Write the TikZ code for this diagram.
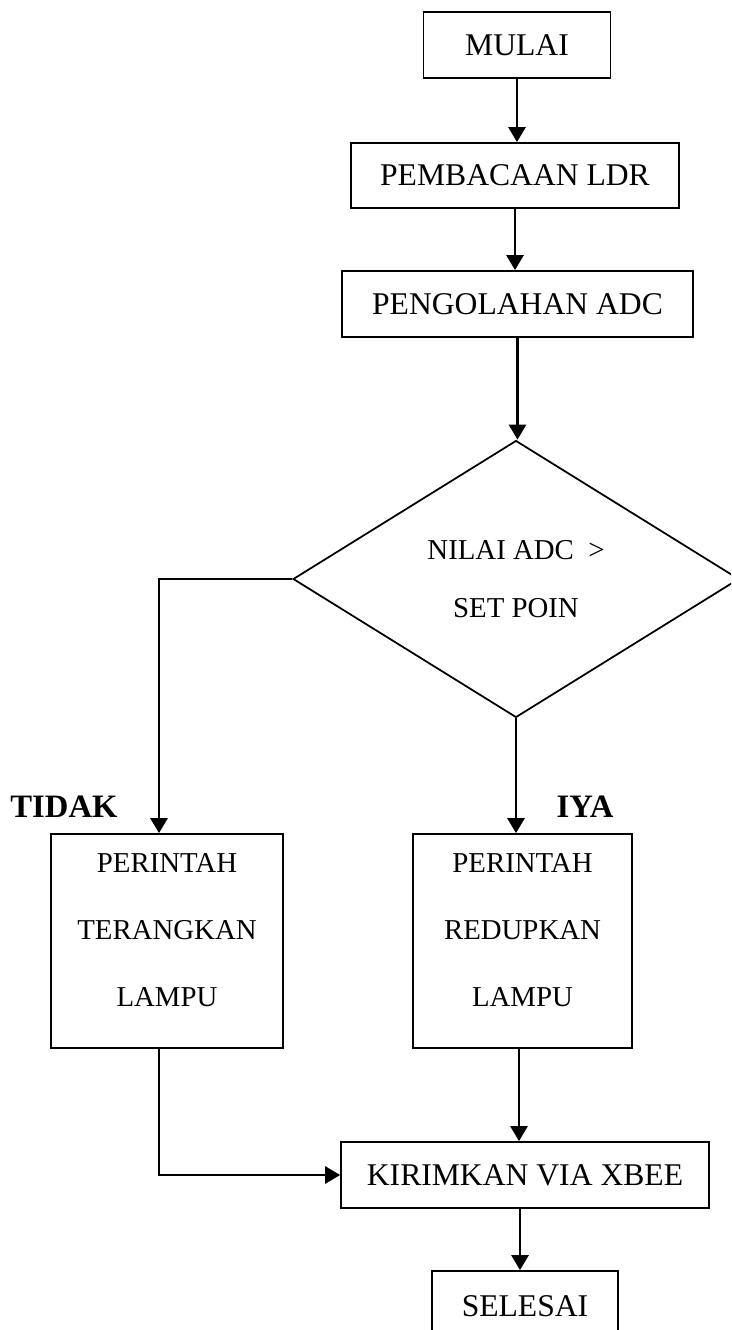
\documentclass[tikz,border=0pt]{standalone}
\usepackage{fontspec}
\setmainfont{Liberation Serif}
\usetikzlibrary{shapes.geometric}
\usetikzlibrary{arrows.meta}

\begin{document}
\begin{tikzpicture}[x=0.02cm, y=-0.02cm,
        proses/.style={draw, line width=1pt, inner sep=0pt, font=\fontsize{18}{22}\selectfont},
        aksi/.style={draw, line width=1pt, inner sep=0pt, align=center, minimum height=4.28cm, font=\fontsize{16.4}{38}\selectfont},
        keputusan/.style={draw, diamond, line width=1pt, inner sep=0pt, align=center, minimum width=8.92cm, minimum height=5.54cm, font=\fontsize{16.4}{33}\selectfont},
        panah/.style={-{Triangle[length=0.3cm, width=0.34cm]}, line width=1.5pt},
        ket/.style={font=\bfseries\fontsize{18.6}{22}\selectfont}]
        \clip (0,0) rectangle (731,1330);
        \node[proses, minimum width=3.74cm, minimum height=1.32cm] (mulai) at (517,45) {MULAI};
        \node[proses, minimum width=6.56cm, minimum height=1.30cm] (baca) at (515,175.5) {PEMBACAAN LDR};
        \node[proses, minimum width=7.02cm, minimum height=1.32cm] (olah) at (517.5,304) {PENGOLAHAN ADC};
        \node[keputusan] (cek) at (516,579) {NILAI ADC \ >\\SET POIN};
        \node[aksi, minimum width=4.64cm] (terang) at (167,941) {PERINTAH\\TERANGKAN\\LAMPU\\[-25.5pt]\mbox{}};
        \node[aksi, minimum width=4.38cm] (redup) at (522.5,941) {PERINTAH\\REDUPKAN\\LAMPU\\[-25.5pt]\mbox{}};
        \node[proses, minimum width=7.36cm, minimum height=1.32cm] (kirim) at (525,1175) {KIRIMKAN VIA XBEE};
        \node[proses, minimum width=3.72cm, minimum height=1.4cm] (selesai) at (525,1306) {SELESAI};
        \node[ket] (tidak) at (64,807) {TIDAK};
        \node[ket] (iya) at (585,807) {IYA};

        \draw[panah] (mulai.south) -- (mulai.south |- baca.north);
        \draw[panah] (baca.south) -- (baca.south |- olah.north);
        \draw[panah] (olah.south) -- (olah.south |- cek.north);
        \draw[panah] (cek.west) -| ([xshift=-0.16cm]terang.north);
        \draw[panah] (cek.south) -- (cek.south |- redup.north);
        \draw[panah] ([xshift=-0.07cm]redup.south) -- ([xshift=-0.07cm]redup.south |- kirim.north);
        \draw[panah] ([xshift=-0.16cm]terang.south) |- (kirim.west);
        \draw[panah] ([xshift=-0.1cm]kirim.south) -- ([xshift=-0.1cm]kirim.south |- selesai.north);
    \end{tikzpicture}
\end{document}
